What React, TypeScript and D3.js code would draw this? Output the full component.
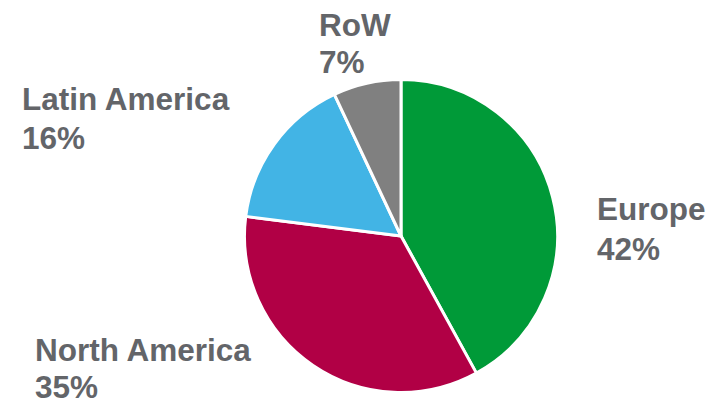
import { useEffect, useRef } from "react";
import * as d3 from "d3";

const regions = ["Europe", "North America", "Latin America", "RoW"];
const shares = [42, 35, 16, 7];
const colors = ["#009a38", "#b10045", "#42b4e5", "#808080"];

// label anchor (left x, first baseline, second baseline) per region
const labelPos: [number, number, number][] = [
  [597, 220, 260],
  [35, 361, 398],
  [22, 110, 149],
  [319, 36, 73],
];

const W = 717;
const H = 403;

const App = () => {
  const svgRef = useRef<SVGSVGElement>(null);

  useEffect(() => {
    const svg = d3.select(svgRef.current).attr("width", W).attr("height", H);
    svg.selectAll("*").remove();

    const cx = 401;
    const cy = 236;
    const r = 156.5;

    const pie = d3
      .pie<number>()
      .sort(null)
      .value((d) => d);
    const arc = d3.arc<d3.PieArcDatum<number>>().innerRadius(0).outerRadius(r);

    const g = svg.append("g").attr("transform", `translate(${cx},${cy})`);
    g.selectAll("path")
      .data(pie(shares))
      .join("path")
      .attr("d", (d) => arc(d))
      .attr("fill", (_, i) => colors[i])
      .attr("stroke", "#fff")
      .attr("stroke-width", 3)
      .attr("stroke-linejoin", "round");

    const labels = svg
      .selectAll("text.lbl")
      .data(regions)
      .join("text")
      .attr("class", "lbl")
      .attr("font-family", "Liberation Sans, Arial, sans-serif")
      .attr("font-weight", "bold")
      .attr("font-size", 31.5)
      .attr("fill", "#636569");

    labels
      .append("tspan")
      .attr("x", (_, i) => labelPos[i][0])
      .attr("y", (_, i) => labelPos[i][1])
      .text((d) => d);
    labels
      .append("tspan")
      .attr("x", (_, i) => labelPos[i][0])
      .attr("y", (_, i) => labelPos[i][2])
      .text((_, i) => `${shares[i]}%`);
  }, []);

  return (
    <svg
      ref={svgRef}
      style={{ position: "absolute", left: 0, top: 0, background: "#fff" }}
    ></svg>
  );
};

export default App;
